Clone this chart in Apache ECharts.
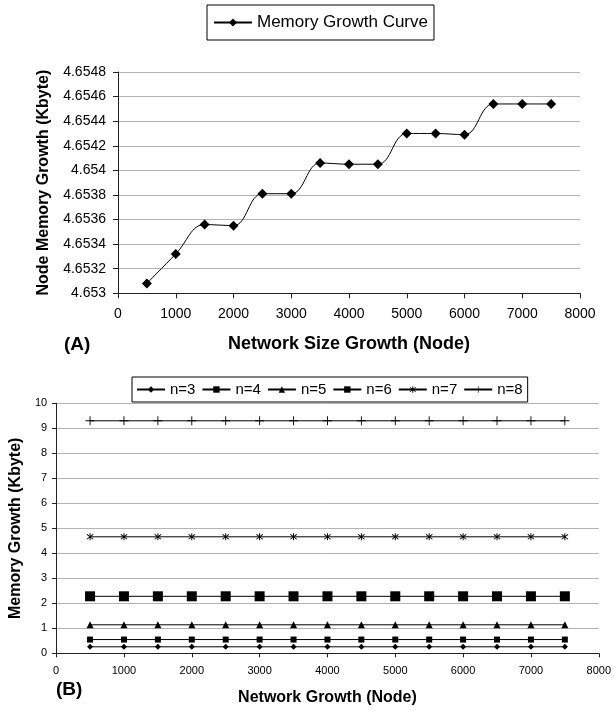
<!DOCTYPE html>
<html>
<head>
<meta charset="utf-8">
<script src="https://cdn.jsdelivr.net/npm/echarts@6/dist/echarts.min.js"></script>
<style>
html,body{margin:0;padding:0;background:#fff;}
#chart{width:614px;height:711px;}
</style>
</head>
<body>
<div id="chart"></div>
<script>
// ---- Data ----
const nodesA = [500,1000,1500,2000,2500,3000,3500,4000,4500,5000,5500,6000,6500,7000,7500];
const memoryA = [4.65308,4.65332,4.65356,4.65355,4.65381,4.65381,4.65406,4.65405,4.65405,4.6543,4.6543,4.65429,4.65454,4.65454,4.65454];
const yTicksA = [4.653,4.6532,4.6534,4.6536,4.6538,4.654,4.6542,4.6544,4.6546,4.6548];
const xTicks = [0,1000,2000,3000,4000,5000,6000,7000,8000];
const yTicksB = [0,1,2,3,4,5,6,7,8,9,10];

const nodesB = [500,1000,1500,2000,2500,3000,3500,4000,4500,5000,5500,6000,6500,7000,7500];
const n3 = [0.26,0.26,0.26,0.26,0.26,0.26,0.26,0.26,0.26,0.26,0.26,0.26,0.26,0.26,0.26];
const n4 = [0.55,0.55,0.55,0.55,0.55,0.55,0.55,0.55,0.55,0.55,0.55,0.55,0.55,0.55,0.55];
const n5 = [1.14,1.14,1.14,1.14,1.14,1.14,1.14,1.14,1.14,1.14,1.14,1.14,1.14,1.14,1.14];
const n6 = [2.28,2.28,2.28,2.28,2.28,2.28,2.28,2.28,2.28,2.28,2.28,2.28,2.28,2.28,2.28];
const n7 = [4.66,4.66,4.66,4.66,4.66,4.66,4.66,4.66,4.66,4.66,4.66,4.66,4.66,4.66,4.66];
const n8 = [9.3,9.3,9.3,9.3,9.3,9.3,9.3,9.3,9.3,9.3,9.3,9.3,9.3,9.3,9.3];
const seriesNamesB = ['n=3','n=4','n=5','n=6','n=7','n=8'];
const seriesValuesB = [n3,n4,n5,n6,n7,n8];

// ---- Styles ----
const FONT = 'Liberation Sans, Arial, sans-serif';
const plusPath = 'path://M4.5,0 H5.5 V4.5 H10 V5.5 H5.5 V10 H4.5 V5.5 H0 V4.5 H4.5 Z';
const starPath = 'path://M4.4,0 L5.6,0 L5.6,10 L4.4,10 Z M0.6,2 L1.4,1 L9.4,8 L8.6,9 Z M8.6,1 L9.4,2 L1.4,9 L0.6,8 Z';
const symbolsB = ['diamond','rect','triangle','rect',starPath,plusPath];
const sizesB = [6,6,7,10,7,9];

function pairs(xs, ys){ return xs.map((x,i)=>[x,ys[i]]); }
function plain(v){ return String(v); }

const axisLineStyle = {lineStyle:{color:'#222',width:1}};
const gridLine = {show:true,lineStyle:{color:'#b4b4b4',width:1}};

const chart = echarts.init(document.getElementById('chart'), null, {renderer:'canvas'});
const option = {
  backgroundColor:'#fff',
  animation:false,
  textStyle:{fontFamily:FONT,color:'#000'},
  legend:[
    {
      data:['Memory Growth Curve'],
      left:207, top:5,
      borderColor:'#000', borderWidth:1,
      padding:[9,6,9,6],
      itemWidth:38, itemHeight:10,
      textStyle:{fontFamily:FONT,fontSize:17,color:'#000'}
    },
    {
      data:seriesNamesB,
      left:132, top:377,
      borderColor:'#000', borderWidth:1,
      padding:[5,5,5,4],
      itemWidth:28, itemHeight:8, itemGap:6,
      textStyle:{fontFamily:FONT,fontSize:15,color:'#000'}
    }
  ],
  grid:[
    {left:118,right:34,top:72,height:221.3},
    {left:56,right:12,top:403.3,height:250}
  ],
  xAxis:[
    {
      gridIndex:0,type:'value',min:xTicks[0],max:xTicks[xTicks.length-1],interval:1000,
      axisLine:axisLineStyle,axisTick:{show:true,length:5,lineStyle:{color:'#222'}},
      splitLine:{show:false},
      axisLabel:{fontSize:14,color:'#000',margin:14,fontFamily:FONT,formatter:plain},
      name:'Network Size Growth (Node)',nameLocation:'middle',nameGap:42,
      nameTextStyle:{fontSize:18,fontWeight:'bold',color:'#000',fontFamily:FONT}
    },
    {
      gridIndex:1,type:'value',min:xTicks[0],max:xTicks[xTicks.length-1],interval:1000,
      axisLine:axisLineStyle,axisTick:{show:true,length:4,lineStyle:{color:'#222'}},
      splitLine:{show:false},
      axisLabel:{fontSize:11,color:'#000',margin:12,fontFamily:FONT,formatter:plain},
      name:'Network Growth (Node)',nameLocation:'middle',nameGap:36,
      nameTextStyle:{fontSize:16,fontWeight:'bold',color:'#000',fontFamily:FONT}
    }
  ],
  yAxis:[
    {
      gridIndex:0,type:'value',min:yTicksA[0],max:yTicksA[yTicksA.length-1],interval:0.0002,
      axisLine:{show:true,lineStyle:{color:'#222',width:1}},axisTick:{show:true,length:5,lineStyle:{color:'#222'}},
      splitLine:gridLine,
      axisLabel:{fontSize:14,color:'#000',margin:12,fontFamily:FONT,
        formatter:function(v){ return String(parseFloat(v.toFixed(4))); }},
      name:'Node Memory Growth (Kbyte)',nameLocation:'middle',nameGap:66,
      nameTextStyle:{fontSize:16,fontWeight:'bold',color:'#000',fontFamily:FONT}
    },
    {
      gridIndex:1,type:'value',min:yTicksB[0],max:yTicksB[yTicksB.length-1],interval:1,
      axisLine:{show:true,lineStyle:{color:'#222',width:1}},axisTick:{show:true,length:4,lineStyle:{color:'#222'}},
      splitLine:gridLine,
      axisLabel:{fontSize:11,color:'#000',margin:9,fontFamily:FONT},
      name:'Memory Growth (Kbyte)',nameLocation:'middle',nameGap:31,
      nameTextStyle:{fontSize:16,fontWeight:'bold',color:'#000',fontFamily:FONT}
    }
  ],
  graphic:[
    {type:'text',left:64,top:335,style:{text:'(A)',font:'bold 19px '+FONT,fill:'#000'}},
    {type:'text',left:56,top:680,style:{text:'(B)',font:'bold 19px '+FONT,fill:'#000'}}
  ],
  series:[
    {
      name:'Memory Growth Curve',type:'line',xAxisIndex:0,yAxisIndex:0,
      data:pairs(nodesA,memoryA),smooth:0.4,
      symbol:'diamond',symbolSize:10,
      lineStyle:{color:'#000',width:1},itemStyle:{color:'#000'}
    }
  ].concat(seriesNamesB.map((nm,i)=>({
      name:nm,type:'line',xAxisIndex:1,yAxisIndex:1,
      data:pairs(nodesB,seriesValuesB[i]),
      symbol:symbolsB[i],symbolSize:sizesB[i],
      lineStyle:{color:'#000',width:1},itemStyle:{color:'#000'}
  })))
};
chart.setOption(option);
</script>
</body>
</html>
